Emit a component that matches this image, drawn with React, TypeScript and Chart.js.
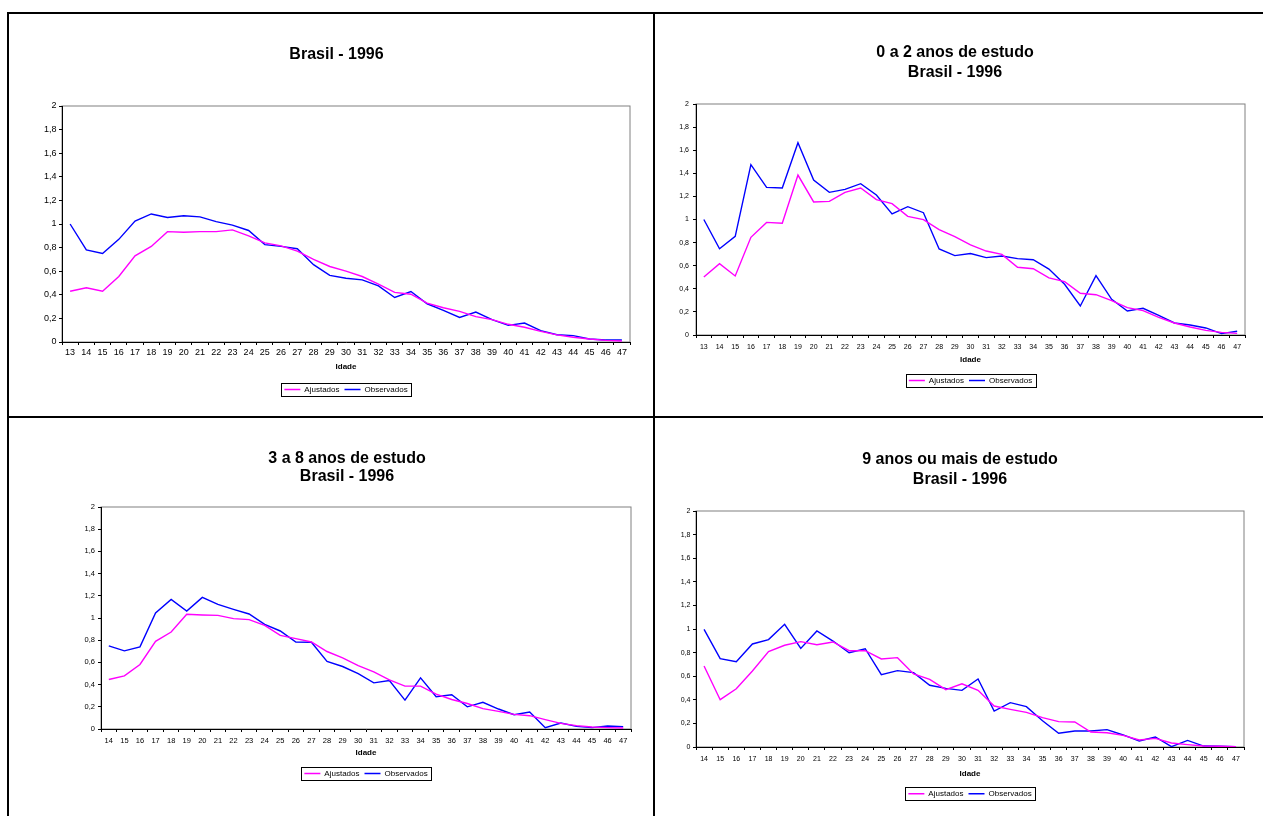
import React, { useEffect, useRef } from 'react';
import { Chart, registerables } from 'chart.js';

Chart.register(...registerables);

// ---------- data ----------
const ages13 = ['13','14','15','16','17','18','19','20','21','22','23','24','25','26','27','28','29','30','31','32','33','34','35','36','37','38','39','40','41','42','43','44','45','46','47'];
const ages14 = ['14','15','16','17','18','19','20','21','22','23','24','25','26','27','28','29','30','31','32','33','34','35','36','37','38','39','40','41','42','43','44','45','46','47'];
const yTickLabels = ['0','0,2','0,4','0,6','0,8','1','1,2','1,4','1,6','1,8','2'];
const seriesNames = ['Ajustados', 'Observados'];
const xTitle = 'Idade';

const totalAjustados = [0.43,0.46,0.43,0.555,0.73,0.81,0.935,0.93,0.935,0.935,0.95,0.9,0.84,0.815,0.77,0.70,0.64,0.60,0.555,0.49,0.42,0.405,0.33,0.29,0.26,0.215,0.19,0.15,0.125,0.09,0.06,0.04,0.025,0.014,0.008];
const totalObservados = [1.0,0.78,0.75,0.87,1.025,1.085,1.055,1.07,1.06,1.02,0.99,0.945,0.825,0.81,0.79,0.655,0.565,0.54,0.527,0.476,0.377,0.428,0.324,0.268,0.208,0.254,0.19,0.141,0.161,0.096,0.062,0.054,0.025,0.017,0.017];

const g02Ajustados = [0.502,0.618,0.511,0.846,0.975,0.967,1.385,1.152,1.157,1.235,1.273,1.172,1.137,1.027,0.999,0.912,0.851,0.78,0.727,0.698,0.586,0.574,0.494,0.462,0.361,0.349,0.297,0.237,0.211,0.153,0.104,0.069,0.04,0.023,0.014];
const g02Observados = [1.0,0.747,0.854,1.475,1.278,1.273,1.665,1.342,1.235,1.261,1.31,1.212,1.048,1.111,1.059,0.745,0.687,0.706,0.67,0.684,0.661,0.652,0.571,0.439,0.251,0.514,0.309,0.208,0.231,0.17,0.104,0.087,0.061,0.012,0.032];

const g38Ajustados = [0.446,0.479,0.581,0.79,0.874,1.033,1.027,1.024,0.994,0.985,0.934,0.844,0.814,0.784,0.698,0.641,0.57,0.515,0.443,0.386,0.386,0.314,0.266,0.23,0.183,0.159,0.132,0.12,0.084,0.051,0.03,0.018,0.012,0.009];
const g38Observados = [0.749,0.704,0.74,1.045,1.168,1.063,1.186,1.123,1.078,1.036,0.943,0.883,0.784,0.781,0.608,0.563,0.498,0.416,0.437,0.26,0.461,0.29,0.308,0.2,0.24,0.18,0.129,0.153,0.012,0.054,0.024,0.012,0.027,0.021];

const g9Ajustados = [0.686,0.401,0.494,0.644,0.808,0.862,0.893,0.867,0.89,0.816,0.816,0.746,0.757,0.619,0.573,0.486,0.535,0.48,0.347,0.319,0.294,0.249,0.215,0.212,0.127,0.121,0.099,0.059,0.073,0.034,0.02,0.008,0.006,0.003];
const g9Observados = [0.997,0.749,0.723,0.873,0.91,1.04,0.836,0.983,0.898,0.799,0.833,0.613,0.647,0.63,0.523,0.497,0.48,0.576,0.305,0.376,0.342,0.223,0.116,0.136,0.136,0.147,0.102,0.051,0.085,0.003,0.056,0.008,0.006,0.003];

const titleTotal = ['Brasil - 1996'];
const title02 = ['0 a 2 anos de estudo', 'Brasil - 1996'];
const title38 = ['3 a 8 anos de estudo', 'Brasil - 1996'];
const title9 = ['9 anos ou mais de estudo', 'Brasil - 1996'];

// ---------- styling / layout ----------
const FONT = '"Liberation Sans", Arial, Helvetica, sans-serif';
const PINK = '#FF00FF';
const BLUE = '#0000FF';

type PanelCfg = {
  left: number; top: number; width: number; height: number;
  title: string[]; titleLH: number; titlePadTop: number; titlePadBottom: number;
  padLeft: number; padRight: number; padBottom: number;
  yWidth: number; yPad: number; fontSize: number; xPad: number;
  idadePadTop: number; idadePadBottom: number;
  labels: string[]; ajust: number[]; obs: number[];
};

const panels: PanelCfg[] = [
  { left: 10, top: 15, width: 642, height: 400, title: titleTotal, titleLH: 1.2, titlePadTop: 29.9, titlePadBottom: 41.9,
    padLeft: 33, padRight: 22, padBottom: 11.5, yWidth: 19, yPad: 2.5, fontSize: 9, xPad: 2.6,
    idadePadTop: 1.2, idadePadBottom: 8.7, labels: ages13, ajust: totalAjustados, obs: totalObservados },
  { left: 656, top: 15, width: 607, height: 400, title: title02, titleLH: 1.25, titlePadTop: 28, titlePadBottom: 21,
    padLeft: 9, padRight: 18, padBottom: 20.5, yWidth: 31, yPad: 4, fontSize: 7, xPad: 4.8,
    idadePadTop: -0.8, idadePadBottom: 6.7, labels: ages13, ajust: g02Ajustados, obs: g02Observados },
  { left: 10, top: 419, width: 642, height: 397, title: title38, titleLH: 1.1, titlePadTop: 31.2, titlePadBottom: 21.6,
    padLeft: 53, padRight: 21, padBottom: 28.5, yWidth: 38, yPad: 3, fontSize: 7.5, xPad: 4.5,
    idadePadTop: -1.8, idadePadBottom: 6.7, labels: ages14, ajust: g38Ajustados, obs: g38Observados },
  { left: 656, top: 419, width: 607, height: 397, title: title9, titleLH: 1.25, titlePadTop: 31, titlePadBottom: 21,
    padLeft: 20, padRight: 19, padBottom: 8.3, yWidth: 20, yPad: 2.5, fontSize: 7, xPad: 4.8,
    idadePadTop: 0.9, idadePadBottom: 6.2, labels: ages14, ajust: g9Ajustados, obs: g9Observados },
];

const plotFrame = {
  id: 'plotFrame',
  beforeDraw(chart: any) {
    const { ctx, chartArea } = chart;
    if (!chartArea) return;
    ctx.save();
    ctx.strokeStyle = '#808080';
    ctx.lineWidth = 1;
    ctx.strokeRect(chartArea.left, chartArea.top, chartArea.right - chartArea.left, chartArea.bottom - chartArea.top);
    ctx.restore();
  },
};

const legendFrame = {
  id: 'legendFrame',
  afterDraw(chart: any) {
    const lg = chart.legend;
    if (!lg || !lg.legendHitBoxes || !lg.legendHitBoxes.length) return;
    const hb = lg.legendHitBoxes;
    let l = Infinity, r = -Infinity, t = Infinity, b = -Infinity;
    hb.forEach((h: any) => {
      l = Math.min(l, h.left); r = Math.max(r, h.left + h.width);
      t = Math.min(t, h.top); b = Math.max(b, h.top + h.height);
    });
    const ctx = chart.ctx;
    ctx.save();
    ctx.strokeStyle = '#000';
    ctx.lineWidth = 1;
    ctx.strokeRect(Math.round(l - 3) + 0.5, Math.round(t - 3) + 0.5, Math.round(r - l + 7), Math.round(b - t + 5));
    ctx.restore();
  },
};

function Panel({ cfg }: { cfg: PanelCfg }) {
  const ref = useRef<HTMLCanvasElement | null>(null);
  useEffect(() => {
    if (!ref.current) return;
    const chart = new Chart(ref.current, {
      type: 'line',
      data: {
        labels: cfg.labels,
        datasets: [
          { label: seriesNames[0], data: cfg.ajust, borderColor: PINK, backgroundColor: PINK, borderWidth: 1.4, pointRadius: 0, tension: 0, fill: false },
          { label: seriesNames[1], data: cfg.obs, borderColor: BLUE, backgroundColor: BLUE, borderWidth: 1.4, pointRadius: 0, tension: 0, fill: false },
        ],
      },
      options: {
        animation: false,
        responsive: false,
        devicePixelRatio: 1,
        events: [],
        layout: { padding: { left: cfg.padLeft, right: cfg.padRight, top: 0, bottom: cfg.padBottom } },
        plugins: {
          title: {
            display: true,
            text: cfg.title,
            color: '#000',
            font: { family: FONT, size: 16, weight: 'bold', lineHeight: cfg.titleLH },
            padding: { top: cfg.titlePadTop, bottom: cfg.titlePadBottom },
          },
          legend: {
            display: true,
            position: 'bottom',
            fullSize: false,
            labels: {
              usePointStyle: true,
              pointStyle: 'line',
              pointStyleWidth: 16,
              color: '#000',
              padding: 5,
              font: { family: FONT, size: 8 },
            },
          },
          tooltip: { enabled: false },
        },
        scales: {
          x: {
            type: 'category',
            offset: true,
            grid: { display: true, offset: true, drawOnChartArea: false, drawTicks: true, tickLength: 3, color: '#000', lineWidth: 1 },
            border: { display: true, color: '#000', width: 1 },
            ticks: { color: '#000', font: { family: FONT, size: cfg.fontSize }, padding: cfg.xPad, maxRotation: 0, autoSkip: false },
            title: { display: true, text: xTitle, color: '#000', font: { family: FONT, size: 8, weight: 'bold', lineHeight: 1.2 }, padding: { top: cfg.idadePadTop, bottom: cfg.idadePadBottom } },
          },
          y: {
            min: 0,
            max: 2,
            grid: { display: true, drawOnChartArea: false, drawTicks: true, tickLength: 3, color: '#000', lineWidth: 1 },
            border: { display: true, color: '#000', width: 1 },
            ticks: {
              stepSize: 0.2,
              color: '#000',
              font: { family: FONT, size: cfg.fontSize },
              padding: cfg.yPad,
              callback: (_v: any, i: number) => yTickLabels[i],
            },
            afterFit: (scale: any) => { scale.width = cfg.yWidth; },
          },
        },
      },
      plugins: [plotFrame, legendFrame],
    } as any);
    return () => chart.destroy();
  }, [cfg]);
  return (
    <canvas
      ref={ref}
      width={cfg.width}
      height={cfg.height}
      style={{ position: 'absolute', left: cfg.left, top: cfg.top, width: cfg.width, height: cfg.height }}
    />
  );
}

const line = (left: number, top: number, width: number, height: number) => (
  <div style={{ position: 'absolute', left, top, width, height, background: '#000' }} />
);

export default function App() {
  return (
    <div style={{ position: 'absolute', left: 0, top: 0, width: 1263, height: 816, background: '#fff', overflow: 'hidden' }}>
      {panels.map((p, i) => <Panel key={i} cfg={p} />)}
      {line(7, 12, 1256, 2)}
      {line(7, 12, 2, 804)}
      {line(653, 12, 2, 804)}
      {line(7, 416, 1256, 2)}
    </div>
  );
}
